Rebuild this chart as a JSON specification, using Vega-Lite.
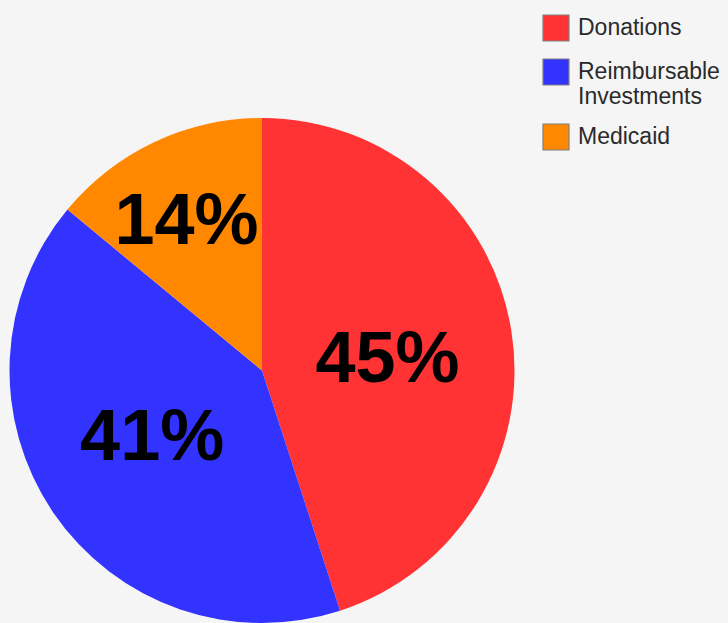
{
  "$schema": "https://vega.github.io/schema/vega-lite/v6.json",
  "autosize": {"type": "none"},
  "padding": {"left": 8, "top": 118, "right": 212, "bottom": 0},
  "width": 508,
  "height": 505,
  "background": "#f5f5f5",
  "view": {"stroke": null},
  "data": {
    "values": [
      {"category": "Donations", "value": 0.45},
      {"category": "Reimbursable Investments", "value": 0.41},
      {"category": "Medicaid", "value": 0.14}
    ]
  },
  "encoding": {
    "theta": {"field": "value", "type": "quantitative", "stack": true},
    "order": {"field": "value", "type": "quantitative", "sort": "descending"},
    "color": {
      "field": "category",
      "type": "nominal",
      "scale": {
        "domain": ["Donations", "Reimbursable Investments", "Medicaid"],
        "range": ["#ff3333", "#3333ff", "#ff8800"]
      },
      "legend": {
        "title": null,
        "orient": "none",
        "legendX": 534,
        "legendY": -104,
        "padding": 0,
        "symbolType": "square",
        "symbolSize": 676,
        "symbolStrokeColor": "#808080",
        "symbolStrokeWidth": 1.2,
        "symbolOpacity": 1,
        "labelFont": "Liberation Sans",
        "labelFontSize": 23,
        "labelColor": "#2a2a2a",
        "labelOffset": 8,
        "labelLimit": 300,
        "rowPadding": 12,
        "labelExpr": "datum.label == 'Reimbursable Investments' ? ['Reimbursable', 'Investments'] : datum.label"
      }
    }
  },
  "layer": [
    {"mark": {"type": "arc", "outerRadius": 252.5}},
    {
      "mark": {
        "type": "text",
        "font": "Liberation Sans",
        "fontSize": 72,
        "fontWeight": "bold",
        "align": "center",
        "baseline": "middle",
        "radius": 128,
        "dx": -1,
        "dy": 10
      },
      "encoding": {
        "text": {"field": "value", "type": "quantitative", "format": ".0%"},
        "color": {"value": "#000000"},
        "opacity": {"condition": {"test": "datum.category === 'Donations'", "value": 1}, "value": 0}
      }
    },
    {
      "mark": {
        "type": "text",
        "font": "Liberation Sans",
        "fontSize": 72,
        "fontWeight": "bold",
        "align": "center",
        "baseline": "middle",
        "radius": 128,
        "dx": -4,
        "dy": -4
      },
      "encoding": {
        "text": {"field": "value", "type": "quantitative", "format": ".0%"},
        "color": {"value": "#000000"},
        "opacity": {"condition": {"test": "datum.category === 'Reimbursable Investments'", "value": 1}, "value": 0}
      }
    },
    {
      "mark": {
        "type": "text",
        "font": "Liberation Sans",
        "fontSize": 72,
        "fontWeight": "bold",
        "align": "center",
        "baseline": "middle",
        "radius": 168,
        "dx": -4,
        "dy": 4
      },
      "encoding": {
        "text": {"field": "value", "type": "quantitative", "format": ".0%"},
        "color": {"value": "#000000"},
        "opacity": {"condition": {"test": "datum.category === 'Medicaid'", "value": 1}, "value": 0}
      }
    }
  ]
}
